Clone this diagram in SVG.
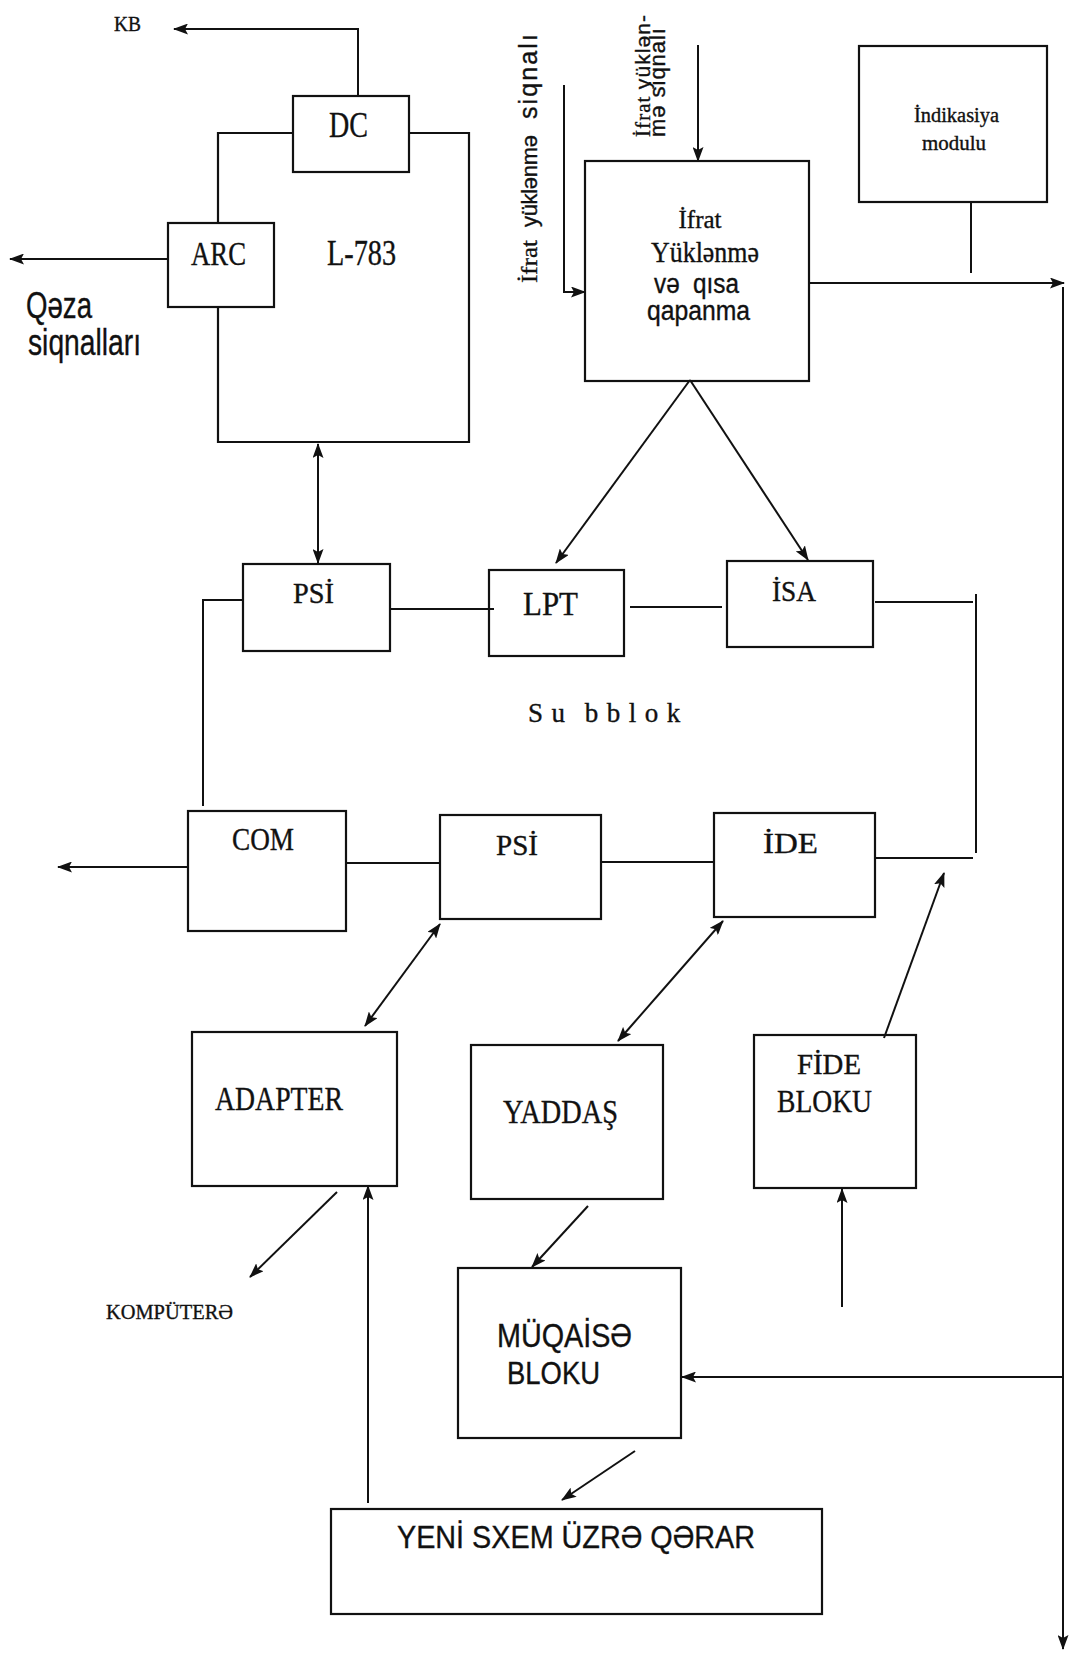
<svg xmlns="http://www.w3.org/2000/svg" width="1069" height="1653" viewBox="0 0 1069 1653">
<style>
.box{fill:none;stroke:#111;stroke-width:2.2}
.ln{fill:none;stroke:#111;stroke-width:2}
.ar{marker-end:url(#ah)}
.dar{marker-start:url(#ah);marker-end:url(#ah)}
.serif{font-family:"Liberation Serif","Times New Roman",serif;fill:#111;stroke:#111;stroke-width:0.35}
.sans{font-family:"Liberation Sans",Arial,sans-serif;fill:#111;stroke:#111;stroke-width:0.35}
</style>
<defs>
<marker id="ah" markerUnits="userSpaceOnUse" markerWidth="15" markerHeight="11" refX="14" refY="5.5" orient="auto-start-reverse" viewBox="0 0 15 11">
<path d="M0,0 L15,5.5 L0,11 L3,5.5 z" fill="#111"/>
</marker>
</defs>
<rect width="1069" height="1653" fill="#fff"/>

<g id="connectors">
<path class="ln ar" d="M358,96 V29 H174"/>
<path class="ln ar" d="M168,259 H10"/>
<path class="ln dar" d="M318,444 V563"/>
<path class="ln ar" d="M564,85 V292 H585"/>
<path class="ln ar" d="M698,45 V161"/>
<path class="ln ar" d="M809,283 H1064"/>
<path class="ln ar" d="M1063,287 V1649"/>
<path class="ln" d="M971,202 V273"/>
<path class="ln ar" d="M690,380 L556,563"/>
<path class="ln ar" d="M690,380 L808,560"/>
<path class="ln" d="M390,609 H494"/>
<path class="ln" d="M630,607 H722"/>
<path class="ln" d="M875,602 H973"/>
<path class="ln" d="M976,594 V853"/>
<path class="ln" d="M243,600 H203 V806"/>
<path class="ln ar" d="M188,867 H58"/>
<path class="ln" d="M346,863 H440"/>
<path class="ln" d="M601,862 H714"/>
<path class="ln" d="M875,858 H973"/>
<path class="ln ar" d="M884,1038 L944,873"/>
<path class="ln dar" d="M440,924 L365,1026"/>
<path class="ln dar" d="M723,921 L618,1041"/>
<path class="ln ar" d="M337,1192 L250,1277"/>
<path class="ln ar" d="M368,1503 V1186"/>
<path class="ln ar" d="M588,1206 L532,1267"/>
<path class="ln ar" d="M842,1307 V1189"/>
<path class="ln ar" d="M1063,1377 H682"/>
<path class="ln ar" d="M635,1451 L562,1500"/>
</g>

<g id="kb-label"><text class="serif" x="114" y="31" font-size="20" textLength="27" lengthAdjust="spacingAndGlyphs">KB</text></g>

<g id="l783">
<path class="box" d="M293,133 H218 V223 M218,307 V442 H469 V133 H409"/>
<text class="serif" x="327" y="265" font-size="35" textLength="69" lengthAdjust="spacingAndGlyphs">L-783</text>
</g>

<g id="dc">
<rect class="box" x="293" y="96" width="116" height="76"/>
<text class="serif" x="329" y="137" font-size="35" textLength="39" lengthAdjust="spacingAndGlyphs">DC</text>
</g>

<g id="arc">
<rect class="box" x="168" y="223" width="106" height="84"/>
<text class="serif" x="191" y="265" font-size="34" textLength="55" lengthAdjust="spacingAndGlyphs">ARC</text>
</g>

<g id="qeza-label">
<text class="sans" x="26" y="318" font-size="36" textLength="66" lengthAdjust="spacingAndGlyphs">Qəza</text>
<text class="sans" x="28" y="355" font-size="36" textLength="113" lengthAdjust="spacingAndGlyphs">siqnalları</text>
</g>

<g id="signal-label-1">
<text class="serif" transform="translate(537,283) rotate(-90)" font-size="23" textLength="43" lengthAdjust="spacingAndGlyphs">İfrat</text>
<text class="sans" transform="translate(537,227) rotate(-90)" font-size="22" textLength="92" lengthAdjust="spacing">yüklənmə</text>
<text class="sans" transform="translate(537,119) rotate(-90)" font-size="25" textLength="85" lengthAdjust="spacing">siqnalı</text>
</g>

<g id="signal-label-2">
<text transform="translate(650,137) rotate(-90)" font-size="21" textLength="122" lengthAdjust="spacing"><tspan class="serif">İfrat </tspan><tspan class="sans">yüklən-</tspan></text>
<text class="sans" transform="translate(665,137) rotate(-90)" font-size="22" textLength="109" lengthAdjust="spacing">mə siqnalı</text>
</g>

<g id="ifrat">
<rect class="box" x="585" y="161" width="224" height="220"/>
<text class="serif" x="700" y="228" font-size="25" text-anchor="middle" textLength="43" lengthAdjust="spacingAndGlyphs">İfrat</text>
<text class="serif" x="651" y="262" font-size="29" textLength="108" lengthAdjust="spacingAndGlyphs">Yüklənmə</text>
<text class="sans" x="654" y="293" font-size="27" textLength="85" lengthAdjust="spacingAndGlyphs" xml:space="preserve">və  qısa</text>
<text class="sans" x="647" y="320" font-size="27" textLength="103" lengthAdjust="spacingAndGlyphs">qapanma</text>
</g>

<g id="indikasiya">
<rect class="box" x="859" y="46" width="188" height="156"/>
<text class="serif" x="914" y="122" font-size="20" textLength="85" lengthAdjust="spacingAndGlyphs">İndikasiya</text>
<text class="serif" x="922" y="150" font-size="20" textLength="64" lengthAdjust="spacingAndGlyphs">modulu</text>
</g>

<g id="psi1">
<rect class="box" x="243" y="564" width="147" height="87"/>
<text class="serif" x="293" y="603" font-size="30" textLength="41" lengthAdjust="spacingAndGlyphs">PSİ</text>
</g>

<g id="lpt">
<rect class="box" x="489" y="570" width="135" height="86"/>
<text class="serif" x="523" y="615" font-size="33" textLength="55" lengthAdjust="spacingAndGlyphs">LPT</text>
</g>

<g id="isa">
<rect class="box" x="727" y="561" width="146" height="86"/>
<text class="serif" x="772" y="601" font-size="30" textLength="44" lengthAdjust="spacingAndGlyphs">İSA</text>
</g>

<g id="subblok-label">
<text class="serif" x="528" y="722" font-size="27" letter-spacing="8.5" word-spacing="-4">Su bblok</text>
</g>

<g id="com">
<rect class="box" x="188" y="811" width="158" height="120"/>
<text class="serif" x="232" y="850" font-size="32" textLength="62" lengthAdjust="spacingAndGlyphs">COM</text>
</g>

<g id="psi2">
<rect class="box" x="440" y="815" width="161" height="104"/>
<text class="serif" x="496" y="855" font-size="30" textLength="42" lengthAdjust="spacingAndGlyphs">PSİ</text>
</g>

<g id="ide">
<rect class="box" x="714" y="813" width="161" height="104"/>
<text class="serif" x="763" y="853" font-size="30" textLength="55" lengthAdjust="spacingAndGlyphs">İDE</text>
</g>

<g id="adapter">
<rect class="box" x="192" y="1032" width="205" height="154"/>
<text class="serif" x="215" y="1110" font-size="33" textLength="128" lengthAdjust="spacingAndGlyphs">ADAPTER</text>
</g>

<g id="yaddas">
<rect class="box" x="471" y="1045" width="192" height="154"/>
<text class="serif" x="503" y="1123" font-size="34" textLength="115" lengthAdjust="spacingAndGlyphs">YADDAŞ</text>
</g>

<g id="fide">
<rect class="box" x="754" y="1035" width="162" height="153"/>
<text class="serif" x="797" y="1074" font-size="29" textLength="64" lengthAdjust="spacingAndGlyphs">FİDE</text>
<text class="serif" x="777" y="1112" font-size="32" textLength="95" lengthAdjust="spacingAndGlyphs">BLOKU</text>
</g>

<g id="kompyutere-label">
<text class="serif" x="106" y="1319" font-size="21" textLength="127" lengthAdjust="spacingAndGlyphs">KOMPÜTERƏ</text>
</g>

<g id="muqayise">
<rect class="box" x="458" y="1268" width="223" height="170"/>
<text class="sans" x="497" y="1347" font-size="33" textLength="135" lengthAdjust="spacingAndGlyphs">MÜQAİSƏ</text>
<text class="sans" x="507" y="1384" font-size="31" textLength="93" lengthAdjust="spacingAndGlyphs">BLOKU</text>
</g>

<g id="yeni">
<rect class="box" x="331" y="1509" width="491" height="105"/>
<text class="sans" x="397" y="1548" font-size="32" textLength="358" lengthAdjust="spacingAndGlyphs">YENİ SXEM ÜZRƏ QƏRAR</text>
</g>
</svg>
